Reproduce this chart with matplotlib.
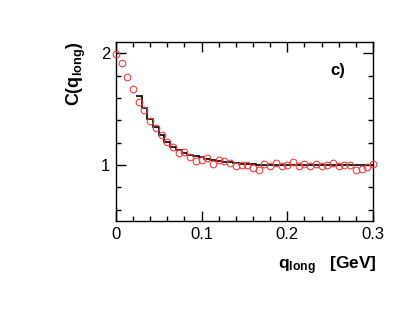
import numpy as np
import matplotlib
matplotlib.use("Agg")
import matplotlib.pyplot as plt
from matplotlib.ticker import MultipleLocator

plt.rcParams["font.family"] = ["Liberation Sans", "DejaVu Sans"]
plt.rcParams["mathtext.fontset"] = "custom"
plt.rcParams["mathtext.rm"] = "Liberation Sans"
plt.rcParams["mathtext.bf"] = "Liberation Sans:bold"

# ── data ─────────────────────────────────────────────────────────────────────
bin_width = 0.3 / 45
q_bins = np.arange(46) * bin_width

c_data = [1.995, 1.916, 1.787, 1.68, 1.56, 1.49, 1.39, 1.33, 1.27, 1.21,
          1.165, 1.11, 1.115, 1.068, 1.04, 1.045, 1.066, 1.006, 1.047, 1.038,
          1.02, 0.995, 1.002, 1.002, 0.977, 0.956, 1.009, 0.99, 1.02, 0.99,
          0.997, 1.027, 0.99, 1.012, 0.99, 1.006, 0.99, 1.003, 1.015, 0.99,
          0.997, 1.003, 0.96, 0.968, 0.98, 1.009]

# fit histogram, bins 4..45
fit_first_bin = 4
c_fit = [1.62, 1.51, 1.415, 1.34, 1.27, 1.21, 1.165, 1.135, 1.11, 1.09,
         1.078, 1.068, 1.055, 1.045, 1.037, 1.03, 1.024, 1.018, 1.013, 1.009,
         1.006, 1.004, 1.003, 1.002, 1.002, 1.001, 1.001, 1.0, 1.0, 1.0,
         1.0, 1.0, 1.0, 1.0, 1.0, 1.0, 1.0, 1.0, 1.0, 1.0,
         1.0, 1.0]

x_ticks = [0, 0.1, 0.2, 0.3]
x_ticklabels = ["0", "0.1", "0.2", "0.3"]
y_ticks = [1, 2]
y_ticklabels = ["1", "2"]

# ── figure ───────────────────────────────────────────────────────────────────
fig = plt.figure(figsize=(4.15, 3.13), dpi=100)
ax = fig.add_axes([0.279, 0.294, 0.62, 0.572])

edges = np.append(q_bins[fit_first_bin:] - bin_width / 2,
                  q_bins[-1] + bin_width / 2)
ax.stairs(c_fit, edges, baseline=None, color="black", linewidth=1.2, zorder=2)

ax.plot(q_bins, c_data, linestyle="none", marker="o", markersize=4.8,
        markerfacecolor="none", markeredgecolor="#ff3b3b",
        markeredgewidth=0.8, zorder=3, clip_on=False)

ax.set_xlim(0, 0.3)
ax.set_ylim(0.5, 2.1)
ax.set_xticks(x_ticks)
ax.set_xticklabels(x_ticklabels)
ax.xaxis.set_minor_locator(MultipleLocator(0.02))
ax.set_yticks(y_ticks)
ax.set_yticklabels(y_ticklabels)
ax.yaxis.set_minor_locator(MultipleLocator(0.2))

ax.tick_params(which="both", direction="in", top=True, right=True,
               labelsize=12, width=1.0, pad=4)
ax.tick_params(which="major", length=7)
ax.tick_params(which="minor", length=3.5)
for s in ax.spines.values():
    s.set_linewidth(1.0)

ax.set_xlabel(r"$\mathbf{q_{long}}$   [GeV]", fontsize=12.5, fontweight="bold",
              loc="right", labelpad=9)
ax.xaxis.label.set_x(1.015)
ax.set_ylabel(r"$\mathbf{C(q_{long})}$", fontsize=13, fontweight="bold",
              loc="top", labelpad=9)

ax.text(0.864, 0.838, "c)", transform=ax.transAxes, fontsize=12,
        fontweight="bold", ha="center", va="center")

fig.savefig("out.png", dpi=100)
